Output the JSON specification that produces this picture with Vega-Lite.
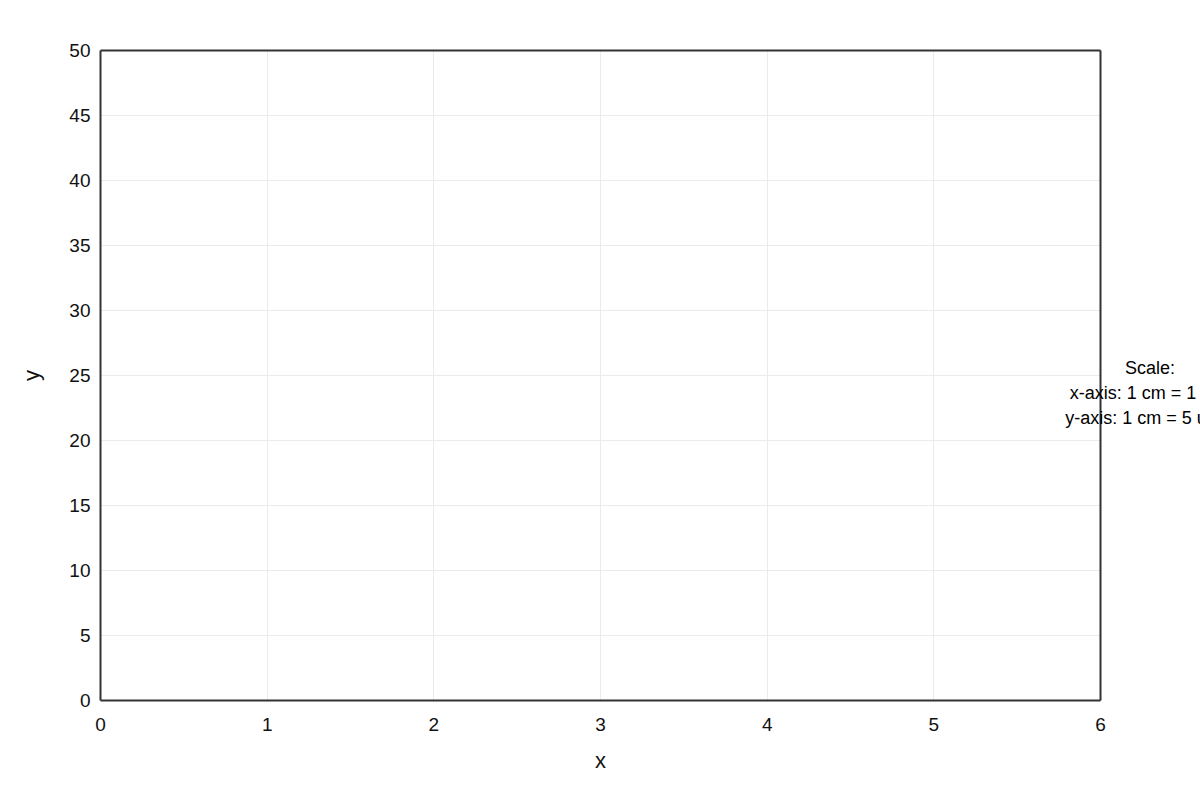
{
  "$schema": "https://vega.github.io/schema/vega-lite/v6.json",
  "width": 1000,
  "height": 650,
  "autosize": "none",
  "padding": {"left": 100, "top": 50, "right": 100, "bottom": 100},
  "background": "white",
  "data": {
    "values": [
      {"line1": "Scale:", "line2": "x-axis: 1 cm = 1 unit", "line3": "y-axis: 1 cm = 5 units"}
    ]
  },
  "layer": [
    {
      "mark": {"type": "point", "opacity": 0},
      "encoding": {
        "x": {
          "datum": 0,
          "type": "quantitative",
          "scale": {"domain": [0, 6], "nice": false},
          "axis": {"title": "x", "values": [0, 1, 2, 3, 4, 5, 6], "format": "d", "grid": true, "titlePadding": 16}
        },
        "y": {
          "datum": 0,
          "type": "quantitative",
          "scale": {"domain": [0, 50], "nice": false},
          "axis": {"title": "y", "values": [0, 5, 10, 15, 20, 25, 30, 35, 40, 45, 50], "format": "d", "grid": true, "titlePadding": 25}
        }
      }
    },
    {
      "mark": {"type": "point", "opacity": 0},
      "encoding": {
        "x": {
          "datum": 0,
          "type": "quantitative",
          "axis": {"orient": "top", "title": null, "labels": false, "values": [0], "grid": false}
        },
        "y": {
          "datum": 0,
          "type": "quantitative",
          "axis": {"orient": "right", "title": null, "labels": false, "values": [0], "grid": false}
        }
      }
    },
    {
      "transform": [{"calculate": "[datum.line1, datum.line2, datum.line3]", "as": "label"}],
      "mark": {
        "type": "text",
        "clip": false,
        "align": "center",
        "baseline": "middle",
        "fontSize": 18,
        "lineHeight": 25,
        "font": "Liberation Sans",
        "color": "#000"
      },
      "encoding": {
        "x": {"datum": 6.3, "type": "quantitative", "axis": null},
        "y": {"datum": 25.5, "type": "quantitative", "axis": null},
        "text": {"field": "label"}
      }
    }
  ],
  "resolve": {"axis": {"x": "independent", "y": "independent"}},
  "config": {
    "font": "Liberation Sans",
    "view": {"stroke": null},
    "axis": {
      "zindex": 1,
      "domain": true,
      "domainColor": "#333",
      "domainWidth": 2,
      "ticks": false,
      "labelFlush": false,
      "labelFontSize": 19,
      "labelColor": "#111",
      "labelFont": "Liberation Sans",
      "titleFontSize": 22,
      "titleFontWeight": "normal",
      "titleColor": "#111",
      "titleFont": "Liberation Sans",
      "gridColor": "#ebebeb",
      "gridWidth": 1
    },
    "axisX": {"labelPadding": 15},
    "axisY": {"labelPadding": 10}
  }
}
